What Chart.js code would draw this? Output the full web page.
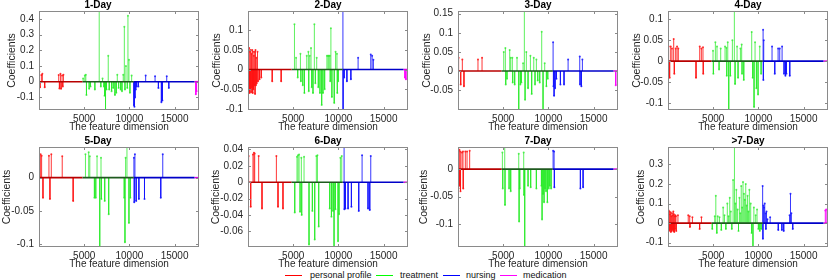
<!DOCTYPE html>
<html>
<head>
<meta charset="utf-8">
<script src="https://cdn.jsdelivr.net/npm/chart.js@4/dist/chart.umd.min.js"></script>
<style>
  body { margin: 0; background: #fff; width: 830px; height: 280px; overflow: hidden; position: relative;
         font-family: "Liberation Sans", Arial, sans-serif; }
  canvas { position: absolute; }
  .sw { position: absolute; height: 1px; top: 275px; width: 17px; }
  .lt { position: absolute; top: 269px; font-size: 9px; line-height: 12px; color: #111; white-space: nowrap; }
</style>
</head>
<body>
<div class="sw" style="left:285px;background:#ff0000"></div><span class="lt" style="left:310px">personal profile</span>
<div class="sw" style="left:376px;background:#00ff00"></div><span class="lt" style="left:400px">treatment</span>
<div class="sw" style="left:443px;background:#0000ff"></div><span class="lt" style="left:466px">nursing</span>
<div class="sw" style="left:500px;background:#ff00ff"></div><span class="lt" style="left:523px">medication</span>
<script>
// feature groups along the x axis (feature index boundaries)
const groupNames = ["personal profile", "treatment", "nursing", "medication"];
const groupBounds = [0, 4800, 10480, 17200, 17700];
const xTicks = [5000, 10000, 15000];

const panelTitles = ["1-Day", "2-Day", "3-Day", "4-Day", "5-Day", "6-Day", "7-Day", ">7-Day"];
const yMins = [-0.18, -0.103, -0.102, -0.117, -0.104, -0.079, -0.141, -0.122];
const yMaxs = [0.45, 0.149, 0.157, 0.12, 0.046, 0.043, 0.040, 0.389];
const yTicks1 = [-0.1, 0, 0.1, 0.2, 0.3, 0.4];
const yTicks2 = [-0.1, -0.05, 0, 0.05, 0.1];
const yTicks3 = [-0.05, 0, 0.05, 0.1, 0.15];
const yTicks4 = [-0.1, -0.05, 0, 0.05, 0.1];
const yTicks5 = [-0.1, -0.05, 0];
const yTicks6 = [-0.06, -0.04, -0.02, 0, 0.02, 0.04];
const yTicks7 = [-0.1, -0.05, 0];
const yTicks8 = [-0.1, 0, 0.1, 0.2, 0.3];

// [feature index, coefficient]
const day1Profile = [[40,0.064],[110,-0.036],[260,0.043],[370,0.05],[630,-0.036],[2180,0.043],[2260,-0.043],[2370,0.05],[2440,-0.045],[2550,0.04],[2630,-0.03],[2700,0.045]];
const day1Treatment = [[4880,0.02],[5070,0.04],[5180,0.045],[5250,-0.085],[5550,-0.045],[5700,-0.03],[6180,-0.05],[6660,0.46],[6840,-0.03],[7030,0.02],[7180,-0.03],[7250,-0.09],[7360,-0.19],[7470,-0.05],[7660,0.165],[7770,-0.05],[8030,-0.06],[8210,-0.04],[8400,-0.085],[8550,-0.07],[8660,0.045],[8810,-0.04],[9030,-0.05],[9180,-0.06],[9320,0.045],[9440,0.35],[9510,-0.05],[9620,0.1],[9770,-0.04],[9840,0.42],[9950,0.14],[10060,-0.07],[10250,0.04]];
const day1Nursing = [[10500,-0.15],[10560,-0.16],[10620,-0.1],[10700,-0.05],[10800,-0.03],[10990,-0.03],[11800,0.04],[12840,0.035],[13210,-0.04],[13540,-0.13],[13650,-0.12],[14130,0.035],[14360,-0.04]];
const day1Medication = [[17350,-0.08],[17430,-0.06]];

const day2Profile = [[50,0.05],[90,-0.055],[130,0.055],[170,-0.06],[220,0.045],[260,-0.05],[300,0.05],[340,-0.058],[390,0.04],[430,-0.045],[470,0.05],[520,-0.06],[560,0.045],[600,-0.05],[650,0.035],[690,-0.04],[740,0.045],[780,-0.062],[830,0.05],[870,-0.04],[920,0.03],[960,-0.035],[1050,0.045],[1100,-0.03],[1280,-0.025],[1470,-0.02],[2680,-0.03],[3670,-0.03]];
const day2Treatment = [[5140,0.115],[5320,0.03],[5500,-0.02],[5800,0.04],[5850,-0.03],[6060,-0.04],[6240,-0.06],[6500,0.035],[6680,0.045],[6720,-0.055],[6830,0.035],[6970,0.055],[7050,-0.045],[7190,-0.06],[7340,0.115],[7450,-0.035],[7600,0.03],[7780,-0.045],[7960,-0.06],[8150,-0.09],[8290,-0.06],[8480,-0.05],[8730,0.035],[8850,0.035],[8950,0.035],[9060,0.035],[9100,-0.03],[9170,0.105],[9280,-0.07],[9540,-0.085],[9690,0.045],[9840,0.04],[9880,-0.06],[9980,-0.03]];
const day2Nursing = [[10500,0.16],[10520,-0.11],[10640,-0.02],[10940,-0.03],[11380,-0.025],[12180,0.03],[13580,0.038],[13730,0.035],[13870,0.025]];
const day2Medication = [[17360,-0.02],[17470,-0.025]];

const day3Profile = [[70,0.035],[300,-0.035],[480,0.03],[660,-0.04],[2210,0.03],[2660,0.035]];
const day3Treatment = [[5060,0.05],[5240,0.06],[5280,-0.035],[5420,-0.02],[5720,0.055],[5830,0.035],[6010,0.035],[6050,-0.03],[6270,-0.035],[6530,0.035],[6720,-0.11],[6900,-0.035],[7010,-0.03],[7200,0.02],[7340,0.16],[7420,-0.075],[7560,0.05],[7750,-0.045],[8010,0.04],[8150,-0.06],[8380,0.035],[8520,-0.035],[8670,0.03],[8820,-0.025],[9040,-0.03],[9260,0.103],[9410,-0.11],[9590,0.02],[9780,-0.04],[9930,-0.02]];
const day3Nursing = [[10520,0.075],[10560,-0.04],[10630,-0.065],[10740,-0.045],[10890,-0.02],[11330,-0.035],[11730,-0.035],[12180,0.03],[13470,0.038],[13500,-0.035],[13650,-0.04],[13760,0.03]];
const day3Medication = [[17450,-0.037]];

const day4Profile = [[70,0.035],[100,-0.035],[180,-0.04],[300,0.035],[440,0.03],[630,0.053],[700,-0.03],[850,0.03],[1000,0.035],[1140,0.03],[3100,-0.04],[3510,0.035],[3690,0.03],[3870,0.033],[3900,-0.03]];
const day4Treatment = [[4980,0.025],[5020,-0.03],[5240,0.045],[5420,0.035],[5650,-0.02],[5830,0.03],[6310,0.035],[6460,0.032],[6500,-0.035],[6610,0.045],[6720,-0.13],[6900,-0.035],[7120,0.05],[7340,0.13],[7420,-0.055],[7640,0.035],[7750,-0.04],[8010,0.03],[8150,0.04],[8190,-0.03],[8380,-0.045],[9260,0.07],[9370,-0.04],[9520,-0.11],[9630,0.045],[9780,-0.065],[9960,-0.08],[10150,0.035],[10300,-0.03]];
const day4Nursing = [[10520,0.075],[10550,-0.045],[10590,0.05],[11510,0.035],[11810,-0.03],[12180,0.03],[12360,0.03],[12620,0.035],[12840,-0.03],[12990,-0.035],[13100,-0.03],[13470,-0.035]];
const day4Medication = [];

const day5Profile = [[180,0.035],[290,0.033],[440,-0.03],[1100,0.033],[1210,-0.032],[1360,0.035],[2570,0.032],[3780,-0.035]];
const day5Treatment = [[5140,0.035],[5500,0.038],[5620,0.032],[6130,-0.03],[6280,-0.03],[6420,0.032],[6720,-0.11],[6860,0.03],[6900,-0.032],[7270,-0.035],[7710,-0.055],[9430,-0.03],[9510,-0.097],[9580,0.03],[9730,0.05],[9950,-0.068],[10100,-0.03]];
const day5Nursing = [[10500,0.03],[10540,-0.037],[10610,0.035],[10750,-0.035],[11050,-0.032],[11670,-0.032],[13470,-0.03],[13690,0.035]];
const day5Medication = [];

const day6Profile = [[70,0.032],[300,-0.03],[550,0.034],[660,0.036],[740,0.035],[1180,0.032],[1550,-0.032],[3140,0.032],[3320,-0.03],[3870,-0.032]];
const day6Treatment = [[5170,-0.037],[5420,0.031],[5530,0.033],[5650,0.034],[5760,-0.036],[5900,0.03],[5940,-0.04],[6200,0.031],[6750,-0.076],[7120,-0.035],[7380,-0.07],[7560,0.032],[7680,0.033],[7820,-0.054],[9040,-0.032],[9230,-0.042],[9410,-0.035],[9520,-0.085],[9670,-0.033],[9960,-0.072],[10070,-0.039],[10220,0.03],[10370,0.032]];
const day6Nursing = [[10630,0.045],[10660,-0.033],[10770,-0.032],[11070,-0.032],[11440,-0.03],[12250,-0.035],[12620,0.033],[13280,-0.032],[13470,-0.034],[13580,0.032]];
const day6Medication = [];

const day7Profile = [[40,0.035],[60,-0.035],[150,0.035],[170,-0.03],[260,0.032],[280,-0.04],[440,0.03],[550,0.032],[580,-0.035],[810,0.032],[1000,0.032],[1290,0.033]];
const day7Treatment = [[4910,0.03],[4950,-0.035],[5170,0.04],[5200,-0.065],[5650,-0.035],[5830,-0.04],[6720,0.028],[6760,-0.095],[6830,-0.035],[7270,0.03],[7300,-0.047],[7380,-0.15],[7750,-0.03],[8040,-0.033],[8670,-0.035],[9230,-0.03],[9300,-0.091],[9410,-0.045],[9520,-0.06],[9630,-0.035],[9740,-0.04],[9890,-0.06],[10040,-0.035],[10150,-0.03],[10300,-0.035]];
const day7Nursing = [[10520,0.033],[10630,0.032],[10660,-0.033],[13540,-0.035],[13840,-0.033]];
const day7Medication = [];

const day8Profile = [[70,0.065],[100,-0.04],[150,0.06],[180,-0.035],[220,0.045],[250,-0.03],[290,0.055],[320,-0.045],[370,0.035],[400,-0.04],[440,0.05],[470,-0.03],[520,0.04],[550,-0.035],[590,0.06],[620,-0.04],[660,0.045],[690,-0.045],[740,0.035],[770,-0.03],[810,0.04],[880,0.035],[910,-0.04],[1100,0.04],[2240,0.04],[2400,0.035],[2430,-0.02],[2700,0.03],[3500,-0.03],[3700,0.03]];
const day8Treatment = [[4900,-0.03],[5170,0.035],[5290,0.14],[5400,-0.05],[5500,0.035],[5700,0.03],[5900,-0.035],[6100,0.08],[6250,0.04],[6400,-0.03],[6560,0.1],[6700,0.035],[6830,0.13],[6950,0.06],[7060,-0.03],[7200,0.22],[7350,0.39],[7450,0.1],[7560,0.17],[7700,0.07],[7800,-0.04],[7900,0.13],[8000,0.05],[8100,0.19],[8200,0.08],[8300,0.21],[8400,0.15],[8500,0.12],[8600,0.2],[8700,0.09],[8800,0.14],[8900,0.06],[9000,0.17],[9150,0.1],[9250,-0.05],[9400,-0.13],[9500,0.08],[9700,0.04],[9850,0.07],[10000,-0.03],[10150,-0.04],[10300,-0.03]];
const day8Nursing = [[10470,0.19],[10500,-0.08],[10550,0.09],[10620,0.08],[10700,0.1],[10800,0.05],[10830,-0.03],[10900,0.06],[11000,0.02],[11300,0.03],[12200,-0.035],[12600,-0.035],[12800,-0.04],[13450,0.04],[13550,0.15],[13650,0.05],[13800,-0.03]];
const day8Medication = [[17400,0.065],[17500,0.07]];

const panelData = [
  [day1Profile, day1Treatment, day1Nursing, day1Medication, yTicks1],
  [day2Profile, day2Treatment, day2Nursing, day2Medication, yTicks2],
  [day3Profile, day3Treatment, day3Nursing, day3Medication, yTicks3],
  [day4Profile, day4Treatment, day4Nursing, day4Medication, yTicks4],
  [day5Profile, day5Treatment, day5Nursing, day5Medication, yTicks5],
  [day6Profile, day6Treatment, day6Nursing, day6Medication, yTicks6],
  [day7Profile, day7Treatment, day7Nursing, day7Medication, yTicks7],
  [day8Profile, day8Treatment, day8Nursing, day8Medication, yTicks8]
];

const stemColors = ["rgba(255,20,20,0.85)", "rgba(40,235,40,0.75)", "rgba(20,20,255,0.85)", "rgba(255,0,255,0.9)"];
const baseColors = ["#b80000", "#1f5a1f", "#0000c8", "#e000e0"];

// layout (page pixels)
const colLeft = [39, 248, 458, 668];
const rowTop = [0, 136];
const rowHeight = [135, 136];
const yTitlePad = [9, 5, 5, 5, 4, 4, 2, 9];
const titleFull = [true, false, false, false, true, false, false, false];
const FONT = '"Liberation Sans", Arial, sans-serif';

// box + inward tick marks, like the original axes
const framePlugin = {
  id: 'frame',
  afterDatasetsDraw(chart) {
    const { ctx, chartArea: a, scales } = chart;
    ctx.save();
    ctx.strokeStyle = '#8a8a8a';
    ctx.lineWidth = 1;
    ctx.strokeRect(a.left + 0.5, a.top + 0.5, a.right - a.left - 1, a.bottom - a.top - 1);
    ctx.beginPath();
    scales.y.ticks.forEach(t => {
      const py = Math.round(scales.y.getPixelForValue(t.value)) + 0.5;
      ctx.moveTo(a.left, py); ctx.lineTo(a.left + 3, py);
      ctx.moveTo(a.right, py); ctx.lineTo(a.right - 3, py);
    });
    scales.x.ticks.forEach(t => {
      const px = Math.round(scales.x.getPixelForValue(t.value)) + 0.5;
      ctx.moveTo(px, a.bottom); ctx.lineTo(px, a.bottom - 3);
      ctx.moveTo(px, a.top); ctx.lineTo(px, a.top + 3);
    });
    ctx.stroke();
    ctx.restore();
  }
};

function stemPoints(pairs) {
  const pts = [];
  pairs.forEach(([x, v]) => {
    pts.push({ x: x, y: 0 }, { x: x, y: v }, { x: x, y: null });
  });
  return pts;
}

panelTitles.forEach((title, i) => {
  const row = Math.floor(i / 4), col = i % 4;
  const cv = document.createElement('canvas');
  cv.width = 204; cv.height = rowHeight[row];
  cv.style.left = (colLeft[col] - 42) + 'px';
  cv.style.top = rowTop[row] + 'px';
  document.body.appendChild(cv);

  const groups = panelData[i].slice(0, 4);
  const datasets = [];
  // zero baselines first so they are painted on top
  groupNames.forEach((g, k) => {
    datasets.push({
      data: [{ x: groupBounds[k], y: 0 }, { x: groupBounds[k + 1], y: 0 }],
      borderColor: baseColors[k], borderWidth: 1.6, pointRadius: 0
    });
  });
  groups.forEach((pairs, k) => {
    datasets.push({
      label: groupNames[k],
      data: stemPoints(pairs),
      borderColor: stemColors[k],
      backgroundColor: stemColors[k],
      borderWidth: 1,
      spanGaps: false,
      pointRadius: c => (c.raw && c.raw.y) ? 1 : 0,
      pointBorderWidth: 0
    });
  });

  const yt = panelData[i][4];
  new Chart(cv, {
    type: 'line',
    data: { datasets },
    options: {
      responsive: false,
      animation: false,
      devicePixelRatio: 1,
      layout: { padding: { left: 0, right: 2, top: 0, bottom: 0 } },
      plugins: {
        legend: { display: false },
        tooltip: { enabled: false },
        title: {
          display: true, text: title, color: '#000', fullSize: titleFull[i],
          font: { family: FONT, size: 10, weight: 'bold', lineHeight: 1 },
          padding: { top: 0, bottom: 1 }
        }
      },
      scales: {
        x: {
          type: 'linear', min: groupBounds[0], max: groupBounds[4],
          grid: { display: false, drawTicks: false }, border: { display: false },
          afterBuildTicks: s => { s.ticks = xTicks.map(v => ({ value: v })); },
          afterFit: s => { s.height = 25; },
          ticks: { color: '#262626', font: { family: FONT, size: 10 }, padding: 3, maxRotation: 0,
                   callback: v => String(v) },
          title: { display: true, text: 'The feature dimension', color: '#262626',
                   font: { family: FONT, size: 10 }, padding: { top: 0, bottom: 2 } }
        },
        y: {
          min: yMins[i], max: yMaxs[i],
          grid: { display: false, drawTicks: false }, border: { display: false },
          afterBuildTicks: s => { s.ticks = yt.map(v => ({ value: v })); },
          afterFit: s => { s.width = 42; },
          ticks: { color: '#262626', font: { family: FONT, size: 10 }, padding: 5,
                   callback: v => String(v) },
          title: { display: true, text: 'Coefficients', color: '#262626',
                   font: { family: FONT, size: 10.5 }, padding: { top: yTitlePad[i], bottom: 0 } }
        }
      }
    },
    plugins: [framePlugin]
  });
});
</script>
</body>
</html>
